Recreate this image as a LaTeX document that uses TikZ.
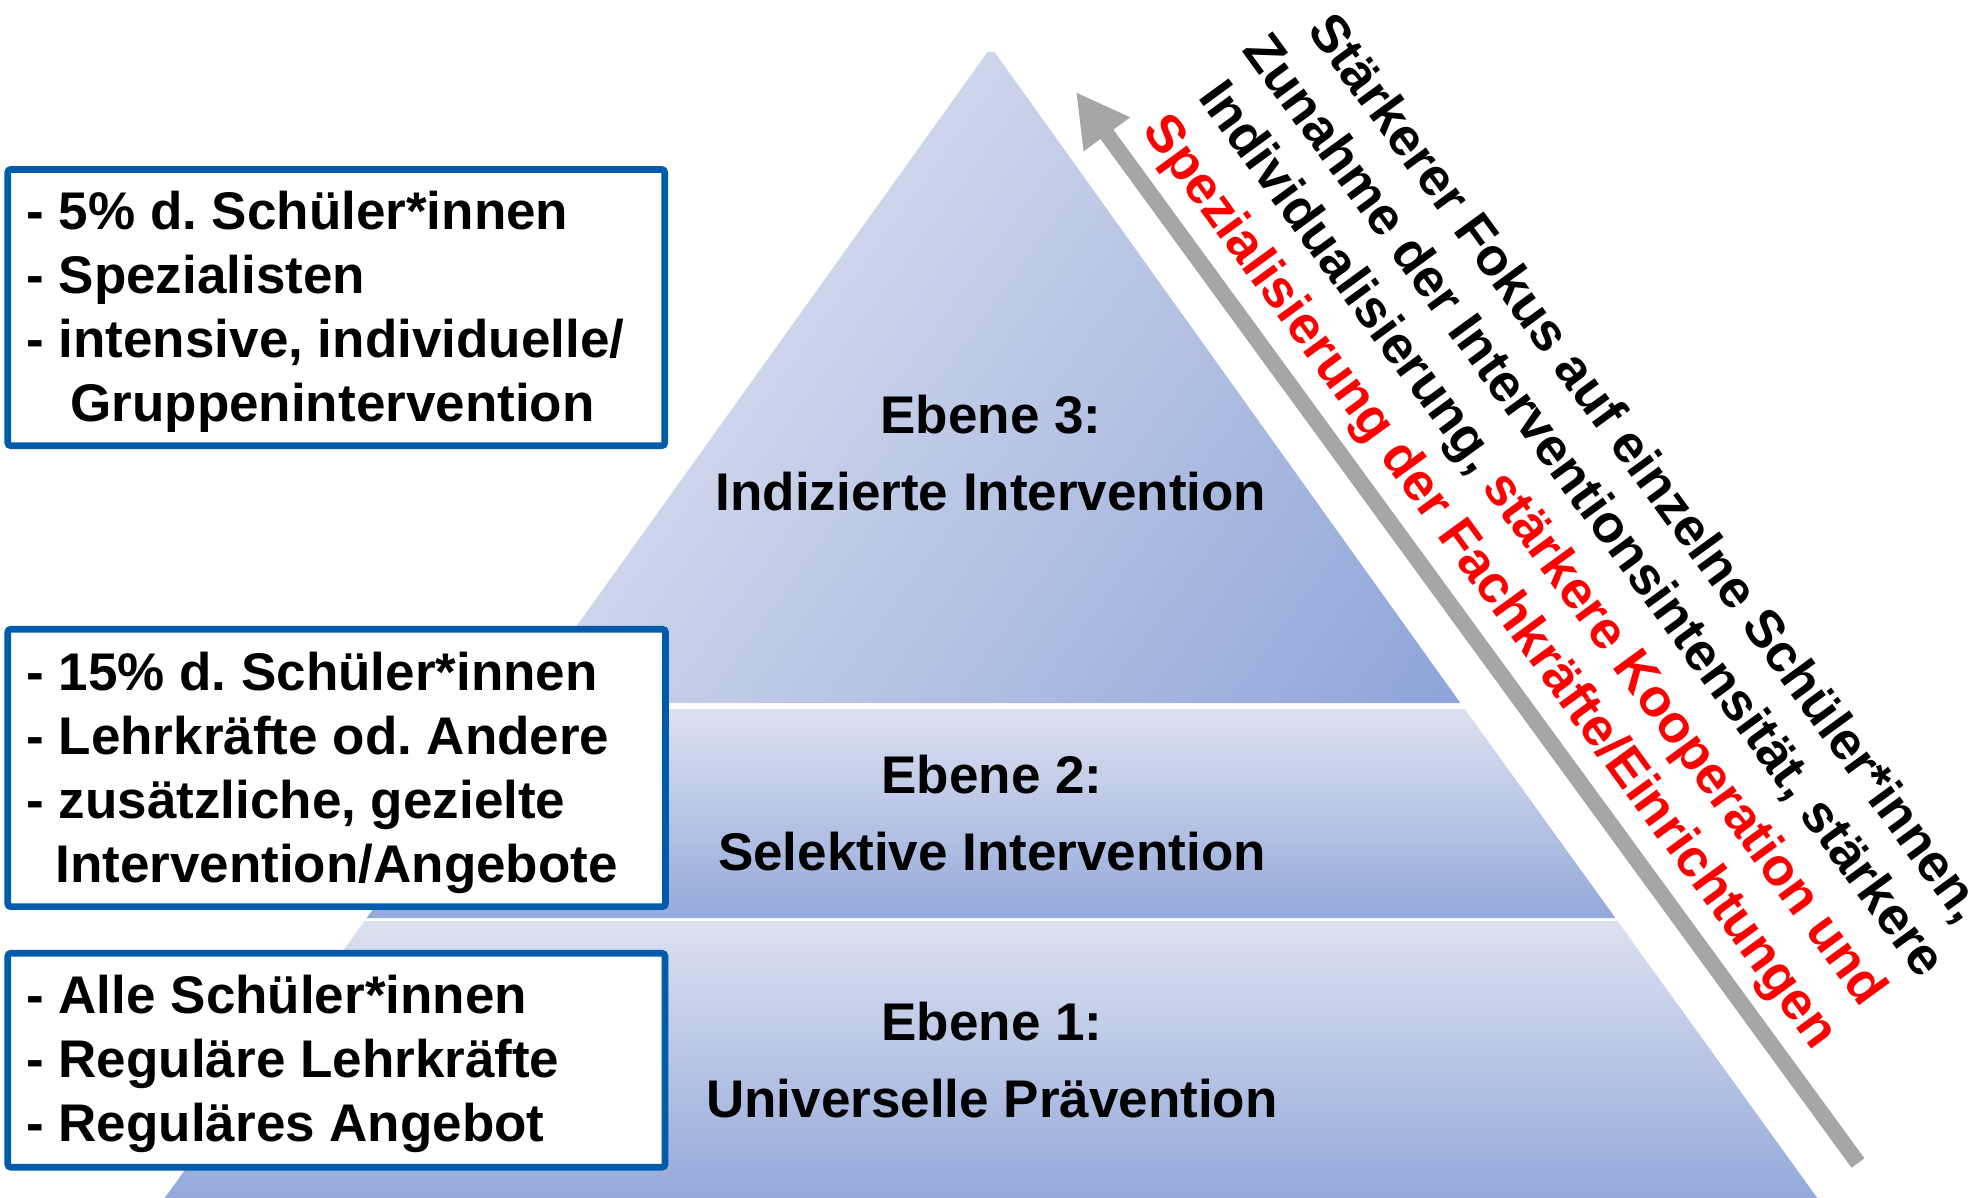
\documentclass[tikz,border=0pt]{standalone}
\usepackage{fontspec}
\setmainfont{Liberation Sans}
\usetikzlibrary{arrows.meta,fit}
\frenchspacing
\definecolor{tierlight}{RGB}{220,225,240}
\definecolor{tierdark}{RGB}{148,169,218}
\definecolor{topA}{RGB}{219,224,239}
\definecolor{topB}{RGB}{128,153,212}
\definecolor{boxblue}{RGB}{0,92,171}
\definecolor{arrowgray}{RGB}{166,166,166}
\definecolor{accentred}{RGB}{255,0,0}
\begin{document}
\begin{tikzpicture}[x=0.5pt,y=-0.5pt,
  infobox/.style={draw=boxblue, line width=3.35pt, fill=white, rounded corners=1.5pt, inner sep=0pt},
  boxtext/.style={font=\fontsize{26.5}{32}\selectfont\bfseries, inner sep=0pt, anchor=base west},
  levellabel/.style={font=\fontsize{26.5}{38.5}\selectfont\bfseries, inner sep=0pt, anchor=base},
  trendtext/.style={font=\fontsize{26.5}{32}\selectfont\bfseries, inner sep=0pt, anchor=base, rotate=-53.9},
  trendarrow/.style={draw=arrowgray, line width=8pt, -{Triangle[length=26.2pt,width=26.8pt]}}]
\fill[white] (0,0) rectangle (1987,1198);
\useasboundingbox (0,0) rectangle (1987,1198);

% pyramid tiers
\begin{scope}
  \clip (987.5,52) -- (994.5,52) -- (1460.4,703) -- (521.6,703) -- cycle;
  \shade[top color=topA, bottom color=topB, shading angle=54] (521,40) rectangle (1621,1140);
\end{scope}
\shade[top color=tierlight, bottom color=tierdark] (517.3,709) -- (1464.7,709) -- (1615.4,918) -- (366.6,918) -- cycle;
\shade[top color=tierlight, bottom color=tierdark] (364.5,921) -- (1617.5,921) -- (1817.3,1198) -- (164.7,1198) -- cycle;

% level labels
\node[levellabel] (lvl3) at (991,433) {\begin{tabular}[t]{@{}c@{}}Ebene 3:\\Indizierte Intervention\end{tabular}};
\node[levellabel] (lvl2) at (992,793) {\begin{tabular}[t]{@{}c@{}}Ebene 2:\\Selektive Intervention\end{tabular}};
\node[levellabel] (lvl1) at (992,1040) {\begin{tabular}[t]{@{}c@{}}Ebene 1:\\Universelle Prävention\end{tabular}};

% info boxes
\node[infobox, fit={(7.8,169.5) (664.7,445.7)}] (box3) {};
\node[infobox, fit={(7.8,629.3) (665.5,906.6)}] (box2) {};
\node[infobox, fit={(7.8,953.3) (665,1167.2)}] (box1) {};

\node[boxtext] (txt3) at (26,230) {\begin{tabular}[t]{@{}l@{}}- 5\% d. Schüler*innen\\- Spezialisten\\- intensive, individuelle/\\\hspace*{22pt}Gruppenintervention\end{tabular}};
\node[boxtext] (txt2) at (26,690) {\begin{tabular}[t]{@{}l@{}}- 15\% d. Schüler*innen\\- Lehrkräfte od. Andere\\- zusätzliche, gezielte\\\hspace*{14.5pt}Intervention/Angebote\end{tabular}};
\node[boxtext] (txt1) at (26,1013) {\begin{tabular}[t]{@{}l@{}}- Alle Schüler*innen\\- Reguläre Lehrkräfte\\- Reguläres Angebot\end{tabular}};

% trend arrow
\coordinate (arrowtail) at (1858,1163);
\coordinate (arrowtip) at (1076,92);
\draw[trendarrow] (arrowtail) -- (arrowtip);

\node[trendtext] (trend) at (1632.7,477.8) {\begin{tabular}[t]{@{}c@{}}Stärkerer Fokus auf einzelne Schüler*innen,\\Zunahme der Interventionsintensität, stärkere\\Individualisierung, \textcolor{accentred}{stärkere Kooperation und}\\\textcolor{accentred}{Spezialisierung der Fachkräfte/Einrichtungen}\end{tabular}};
\end{tikzpicture}
\end{document}
